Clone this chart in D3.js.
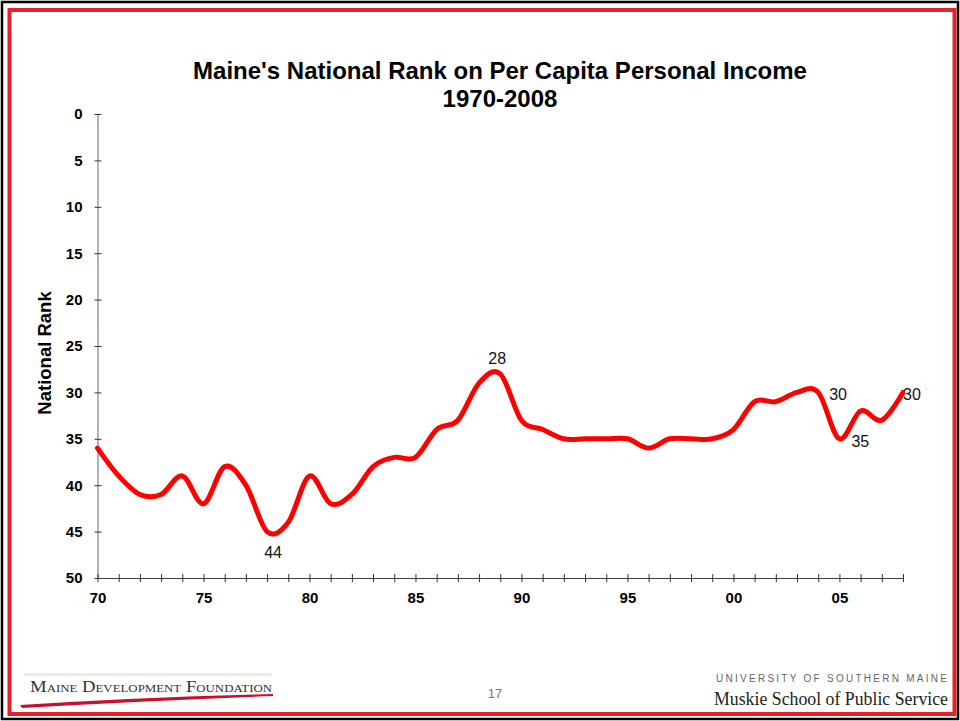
<!DOCTYPE html>
<html lang="en">
<head>
  <meta charset="utf-8" />
  <title>Maine's National Rank on Per Capita Personal Income</title>
  <script src="https://d3js.org/d3.v7.min.js"></script>
  <style>
    body { margin: 0; background: #fff; }
    svg { display: block; font-family: "Liberation Sans", Arial, sans-serif; }
    .tick text { font-weight: bold; font-size: 15px; fill: #000; }
  </style>
</head>
<body>
  <svg id="viz" width="960" height="721"></svg>
  <script>
    // rank per year
    const years = d3.range(1970, 2009);
    const ranks = [36, 39, 41, 41, 39, 42, 38, 40, 45, 44,
                   39, 42, 41, 38, 37, 37, 34, 33, 29, 28,
                   33, 34, 35, 35, 35, 35, 36, 35, 35, 35,
                   34, 31, 31, 30, 30, 35, 32, 33, 30];
    const labelYears = [1978, 1989, 2004, 2005, 2008];
    const labelTexts = ["44", "28", "30", "35", "30"];
    const yTicks = [0, 5, 10, 15, 20, 25, 30, 35, 40, 45, 50];
    const xLabelYears = [1970, 1975, 1980, 1985, 1990, 1995, 2000, 2005];

    const svg = d3.select("#viz");

    // slide frame
    svg.append("rect").attr("x", 2).attr("y", 2).attr("width", 956).attr("height", 717)
      .attr("fill", "none").attr("stroke", "#000").attr("stroke-width", 2.5);
    svg.append("rect").attr("x", 9.5).attr("y", 10).attr("width", 945).attr("height", 704)
      .attr("fill", "none").attr("stroke", "#e8202a").attr("stroke-width", 4);

    const x = d3.scaleLinear().domain([1970, 2008]).range([97.5, 903]);
    const y = d3.scaleLinear().domain([0, 50]).range([114, 578]);

    // title
    const title = svg.append("text")
      .attr("text-anchor", "middle")
      .style("font-weight", "bold").style("font-size", "24px");
    title.append("tspan").attr("x", 500).attr("y", 79).text("Maine's National Rank on Per Capita Personal Income");
    title.append("tspan").attr("x", 500).attr("y", 107).text("1970-2008");

    // y axis
    const yAxis = svg.append("g")
      .attr("transform", "translate(97.5,0)")
      .call(d3.axisLeft(y).tickValues(yTicks).tickSize(0).tickPadding(15));
    yAxis.select(".domain").attr("stroke", "#808080").attr("stroke-width", 1.2);
    yAxis.selectAll(".tick line").attr("x1", -3).attr("x2", 4).attr("stroke", "#333");

    svg.append("text")
      .attr("transform", "translate(51,353) rotate(-90)")
      .attr("text-anchor", "middle")
      .style("font-weight", "bold").style("font-size", "18.5px")
      .text("National Rank");

    // x axis: a tick every year, labels every 5
    const xAxis = svg.append("g")
      .attr("transform", "translate(0,578)")
      .call(d3.axisBottom(x).tickValues(years).tickSize(0).tickPadding(14)
        .tickFormat(d => xLabelYears.includes(d) ? String(d % 100).padStart(2, "0") : ""));
    xAxis.select(".domain").attr("stroke", "#404040").attr("stroke-width", 1.2);
    xAxis.selectAll(".tick line").attr("y1", -4).attr("y2", 4).attr("stroke", "#333");

    // line
    const line = d3.line()
      .x((d, i) => x(years[i]))
      .y(d => y(d))
      .curve(d3.curveCardinal.tension(0));
    svg.append("path")
      .datum(ranks)
      .attr("d", line)
      .attr("fill", "none")
      .attr("stroke", "#ff0000")
      .attr("stroke-width", 5)
      .attr("stroke-linejoin", "round")
      .attr("stroke-linecap", "round");

    // data labels (hand placed in the original)
    const offsets = [[6, 26, "middle"], [-3, -10, "middle"], [11, 8, "start"], [12, 8, "start"], [0, 8, "start"]];
    svg.append("g").selectAll("text")
      .data(labelYears)
      .join("text")
      .attr("x", (d, i) => x(d) + offsets[i][0])
      .attr("y", (d, i) => y(ranks[years.indexOf(d)]) + offsets[i][1])
      .attr("text-anchor", (d, i) => offsets[i][2])
      .style("font-size", "16px")
      .attr("fill", "#111")
      .text((d, i) => labelTexts[i]);

    // footer
    const foot = svg.append("g");
    foot.append("rect").attr("x", 24).attr("y", 673).attr("width", 248).attr("height", 3).attr("fill", "#ececec");
    foot.append("text")
      .attr("x", 30).attr("y", 692)
      .attr("textLength", 242).attr("lengthAdjust", "spacingAndGlyphs")
      .style("font-family", "'Liberation Serif', 'Times New Roman', serif")
      .style("font-size", "16px").style("font-variant", "small-caps")
      .attr("fill", "#333")
      .text("Maine Development Foundation");
    foot.append("path")
      .attr("d", "M20,705 Q140,697 273,694 L273,696 Q140,701 22,708 Z")
      .attr("fill", "#c8102e");
    foot.append("text")
      .attr("x", 495).attr("y", 698).attr("text-anchor", "middle")
      .style("font-size", "13px").attr("fill", "#777")
      .text("17");
    foot.append("text")
      .attr("x", 716).attr("y", 682)
      .attr("textLength", 231).attr("lengthAdjust", "spacing")
      .style("font-size", "10px").attr("fill", "#666")
      .text("UNIVERSITY OF SOUTHERN MAINE");
    foot.append("text")
      .attr("x", 714).attr("y", 705)
      .attr("textLength", 234).attr("lengthAdjust", "spacingAndGlyphs")
      .style("font-family", "'Liberation Serif', 'Times New Roman', serif")
      .style("font-size", "18px").attr("fill", "#222")
      .text("Muskie School of Public Service");
  </script>
</body>
</html>
